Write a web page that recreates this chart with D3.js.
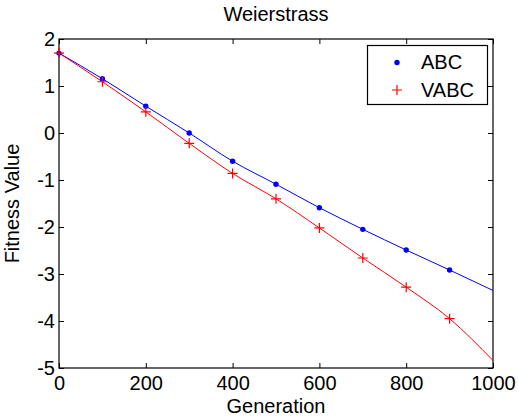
<!DOCTYPE html>
<html>
<head>
<meta charset="utf-8">
<script src="https://cdn.jsdelivr.net/npm/d3@7"></script>
<style>
  body { margin: 0; background: #fff; }
  text { font-family: "Liberation Sans", Arial, sans-serif; fill: #000; }
</style>
</head>
<body>
<div id="chart"></div>
<script>
var svgWidth = 518;
var svgHeight = 418;

var margin = { top: 39, right: 25, bottom: 50, left: 59 };
var width = 493 - margin.left;
var height = 368 - margin.top;
var fontSize = "20px";

// data
var generations = [0, 100, 200, 300, 400, 500, 600, 700, 800, 900, 1000];
var abcValues = [1.70, 1.155, 0.57, 0.0, -0.60, -1.09, -1.59, -2.05, -2.49, -2.915, -3.35];
var vabcValues = [1.70, 1.09, 0.45, -0.22, -0.86, -1.40, -2.02, -2.66, -3.28, -3.95, -4.84];
var xTicks = [0, 200, 400, 600, 800, 1000];
var yTicks = [-5, -4, -3, -2, -1, 0, 1, 2];

var svg = d3.select("#chart")
  .append("svg")
  .attr("width", svgWidth)
  .attr("height", svgHeight);

var chartGroup = svg.append("g")
  .attr("transform", `translate(${margin.left}, ${margin.top})`);

var xScale = d3.scaleLinear().domain([0, 1000]).range([0, width]);
var yScale = d3.scaleLinear().domain([-5, 2]).range([height, 0]);

var plainFormat = d => String(d);

// axes with inward ticks on all four sides
function styleAxis(g) {
  g.select(".domain").remove();
  g.selectAll("line").attr("stroke", "#000");
  g.selectAll("text").style("font-size", fontSize).attr("fill", "#000");
}

chartGroup.append("g")
  .attr("transform", `translate(0, ${height})`)
  .call(d3.axisBottom(xScale).tickValues(xTicks).tickSizeInner(-5).tickSizeOuter(0).tickPadding(8).tickFormat(plainFormat))
  .call(styleAxis);

chartGroup.append("g")
  .call(d3.axisTop(xScale).tickValues(xTicks).tickSizeInner(-5).tickSizeOuter(0).tickFormat(""))
  .call(styleAxis);

chartGroup.append("g")
  .call(d3.axisLeft(yScale).tickValues(yTicks).tickSizeInner(-5).tickSizeOuter(0).tickPadding(4).tickFormat(plainFormat))
  .call(styleAxis);

chartGroup.append("g")
  .attr("transform", `translate(${width}, 0)`)
  .call(d3.axisRight(yScale).tickValues(yTicks).tickSizeInner(-5).tickSizeOuter(0).tickFormat(""))
  .call(styleAxis);

chartGroup.append("rect")
  .attr("width", width)
  .attr("height", height)
  .attr("fill", "none")
  .attr("stroke", "#000")
  .attr("stroke-width", 1.2);

// lines
var abcData = generations.map((g, i) => ({ x: g, y: abcValues[i] }));
var vabcData = generations.map((g, i) => ({ x: g, y: vabcValues[i] }));

var line = d3.line()
  .x(d => xScale(d.x))
  .y(d => yScale(d.y))
  .curve(d3.curveMonotoneX);

chartGroup.append("path")
  .datum(abcData)
  .attr("d", line)
  .attr("fill", "none")
  .attr("stroke", "#0000ff")
  .attr("stroke-width", 1);

chartGroup.append("path")
  .datum(vabcData)
  .attr("d", line)
  .attr("fill", "none")
  .attr("stroke", "#ff0000")
  .attr("stroke-width", 1);

// markers (not at the last point)
chartGroup.selectAll(".abcDot")
  .data(abcData.slice(0, -1))
  .enter()
  .append("circle")
  .attr("cx", d => xScale(d.x))
  .attr("cy", d => yScale(d.y))
  .attr("r", 2.7)
  .attr("fill", "#0000ff");

chartGroup.selectAll(".vabcPlus")
  .data(vabcData.slice(0, -1))
  .enter()
  .append("path")
  .attr("transform", d => `translate(${xScale(d.x)}, ${yScale(d.y)})`)
  .attr("d", "M-5,0H5M0,-5V5")
  .attr("stroke", "#ff0000")
  .attr("stroke-width", 1.2)
  .attr("fill", "none");

// title and axis labels
svg.append("text")
  .attr("x", margin.left + width / 2)
  .attr("y", 21)
  .attr("text-anchor", "middle")
  .style("font-size", fontSize)
  .text("Weierstrass");

svg.append("text")
  .attr("x", margin.left + width / 2)
  .attr("y", 413)
  .attr("text-anchor", "middle")
  .style("font-size", fontSize)
  .text("Generation");

svg.append("text")
  .attr("transform", `translate(19, ${margin.top + height / 2}) rotate(-90)`)
  .attr("text-anchor", "middle")
  .style("font-size", fontSize)
  .text("Fitness Value");

// legend
var legend = svg.append("g");
legend.append("rect")
  .attr("x", 367.5)
  .attr("y", 45.5)
  .attr("width", 120)
  .attr("height", 59)
  .attr("fill", "#fff")
  .attr("stroke", "#000")
  .attr("stroke-width", 1.2);

legend.append("circle")
  .attr("cx", 397)
  .attr("cy", 62.5)
  .attr("r", 2.7)
  .attr("fill", "#0000ff");

legend.append("path")
  .attr("transform", "translate(397, 90)")
  .attr("d", "M-5,0H5M0,-5V5")
  .attr("stroke", "#ff0000")
  .attr("stroke-width", 1.2);

legend.append("text")
  .attr("x", 421)
  .attr("y", 69)
  .style("font-size", fontSize)
  .text("ABC");

legend.append("text")
  .attr("x", 421)
  .attr("y", 97)
  .style("font-size", fontSize)
  .text("VABC");
</script>
</body>
</html>
